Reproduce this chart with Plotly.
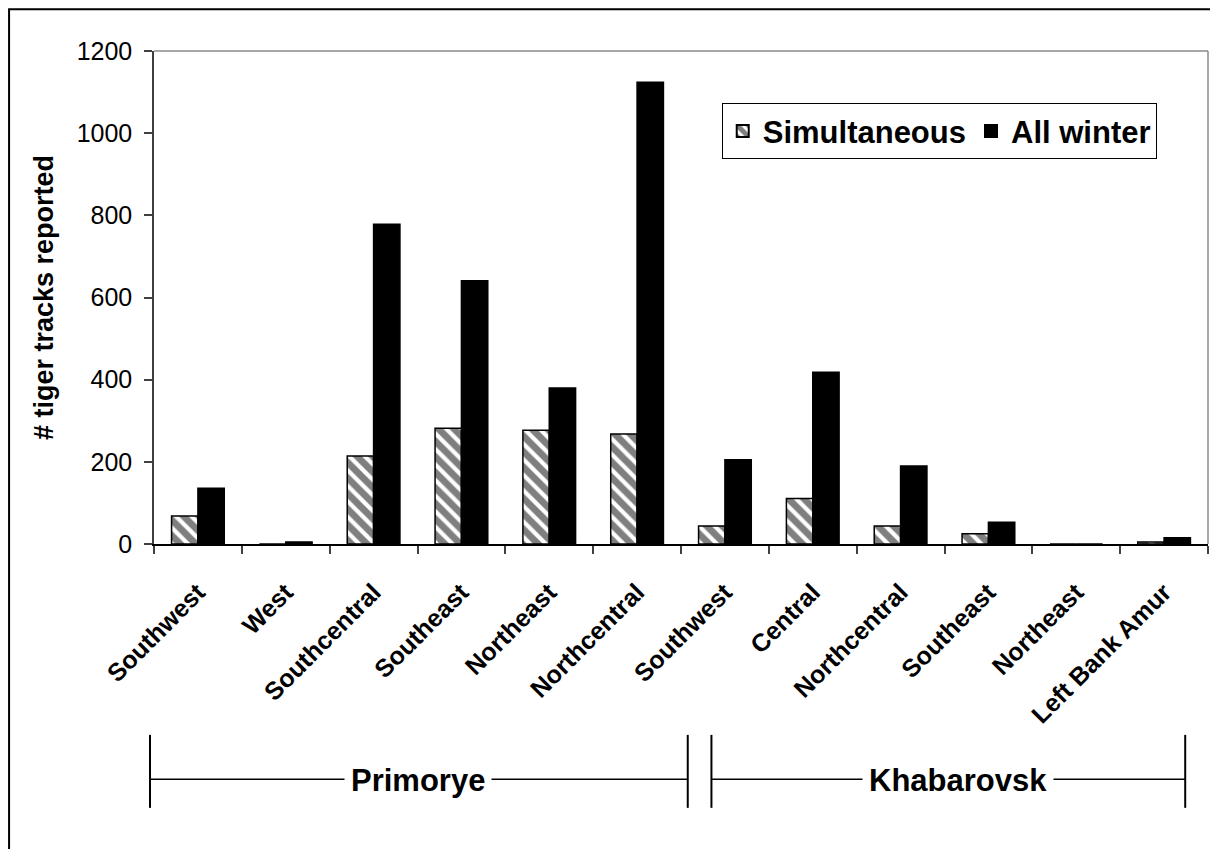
import plotly.graph_objects as go

# ---------------- data ----------------
regions = ["Southwest", "West", "Southcentral", "Southeast", "Northeast", "Northcentral",
           "Southwest", "Central", "Northcentral", "Southeast", "Northeast", "Left Bank Amur"]
simultaneous = [68, 0, 214, 282, 277, 268, 44, 111, 44, 25, 0, 5]
all_winter = [136, 5, 778, 641, 380, 1124, 205, 418, 190, 53, 0, 15]
y_ticks = [0, 200, 400, 600, 800, 1000, 1200]
groups = ["Primorye", "Khabarovsk"]

# ---------------- geometry (page pixels; page has an 8px body margin) ----------------
OFF = 8
W, H = 1218 - OFF, 849 - OFF
PL, PR, PT, PB = 154 - OFF, 1208.5 - OFF, 50.7 - OFF, 544.0 - OFF
FONT = "Liberation Sans, Arial, sans-serif"


def px_x(px):
    px -= OFF
    return (px - PL) / (PR - PL)


def px_y(py):
    py -= OFF
    return (PB - py) / (PB - PT)


pos = list(range(len(regions)))

fig = go.Figure()
fig.add_trace(go.Bar(
    x=pos, y=simultaneous, name="Simultaneous",
    marker=dict(color="white", line=dict(color="black", width=1.5),
                pattern=dict(shape="\\", fgcolor="black", bgcolor="white",
                             size=11, solidity=0.62)),
))
fig.add_trace(go.Bar(
    x=pos, y=all_winter, name="All winter",
    marker=dict(color="black", line=dict(color="black", width=1.5)),
))

shapes = []
# outer frame (only top/left visible inside the canvas)
shapes.append(dict(type="rect", xref="paper", yref="paper",
                   x0=px_x(9), x1=px_x(1260), y0=px_y(900), y1=px_y(9),
                   line=dict(color="black", width=2), fillcolor="rgba(0,0,0,0)", layer="above"))
# plot area top / right border (gray)
shapes.append(dict(type="line", xref="paper", yref="paper", x0=0, x1=1, y0=1, y1=1,
                   line=dict(color="#8a8a8a", width=1.5)))
shapes.append(dict(type="line", xref="paper", yref="paper", x0=1, x1=1, y0=0, y1=1,
                   line=dict(color="#8a8a8a", width=1.5)))

# group brackets
brackets = [(150, 688, 418), (711.7, 1185.7, 958)]
annotations = []
for (xa, xb, xc), label in zip(brackets, groups):
    for xv in (xa, xb):
        shapes.append(dict(type="line", xref="paper", yref="paper",
                           x0=px_x(xv), x1=px_x(xv), y0=px_y(735), y1=px_y(808),
                           line=dict(color="black", width=2)))
    shapes.append(dict(type="line", xref="paper", yref="paper",
                       x0=px_x(xa), x1=px_x(xb), y0=px_y(779.3), y1=px_y(779.3),
                       line=dict(color="black", width=1.5)))
    annotations.append(dict(text=label, xref="paper", yref="paper",
                            x=px_x(xc), y=px_y(781), xanchor="center", yanchor="middle",
                            showarrow=False, bgcolor="white", borderpad=6,
                            font=dict(family=FONT, size=31, color="black", weight="bold")))

fig.update_layout(
    width=W, height=H,
    margin=dict(l=PL, r=W - PR, t=PT, b=H - PB, autoexpand=False),
    paper_bgcolor="white", plot_bgcolor="white",
    barmode="group", bargap=0.4, bargroupgap=0,
    font=dict(family=FONT, color="black"),
    showlegend=True,
    legend=dict(orientation="h", x=px_x(722), y=px_y(103), xanchor="left", yanchor="top",
                bgcolor="white", bordercolor="black", borderwidth=1,
                font=dict(family=FONT, size=31, color="black", weight="bold"),
                itemsizing="constant", tracegroupgap=0),
    shapes=shapes,
    annotations=annotations,
)

fig.update_xaxes(
    range=[-0.5, len(regions) - 0.5],
    tickmode="array", tickvals=pos, ticktext=regions,
    tickangle=-45, ticks="", showgrid=False, zeroline=False,
    showline=True, linecolor="black", linewidth=1.5,
    tickfont=dict(family=FONT, size=25, color="black", weight="bold"),
    ticklabelstandoff=22,
    minor=dict(tickmode="array", tickvals=[p - 0.5 for p in pos] + [len(regions) - 0.5],
               ticks="outside", ticklen=8, tickcolor="#404040", tickwidth=1.5, showgrid=False),
)
fig.update_yaxes(
    range=[0, 1200], tickmode="array", tickvals=y_ticks,
    ticks="outside", ticklen=8, tickcolor="#404040", tickwidth=1.5,
    showgrid=False, zeroline=False,
    showline=True, linecolor="#404040", linewidth=1.5,
    tickfont=dict(family=FONT, size=25, color="black"),
    ticklabelstandoff=7,
    title=dict(text="# tiger tracks reported", standoff=15,
               font=dict(family=FONT, size=27, color="black", weight="bold")),
)

fig.write_html("out.html")
